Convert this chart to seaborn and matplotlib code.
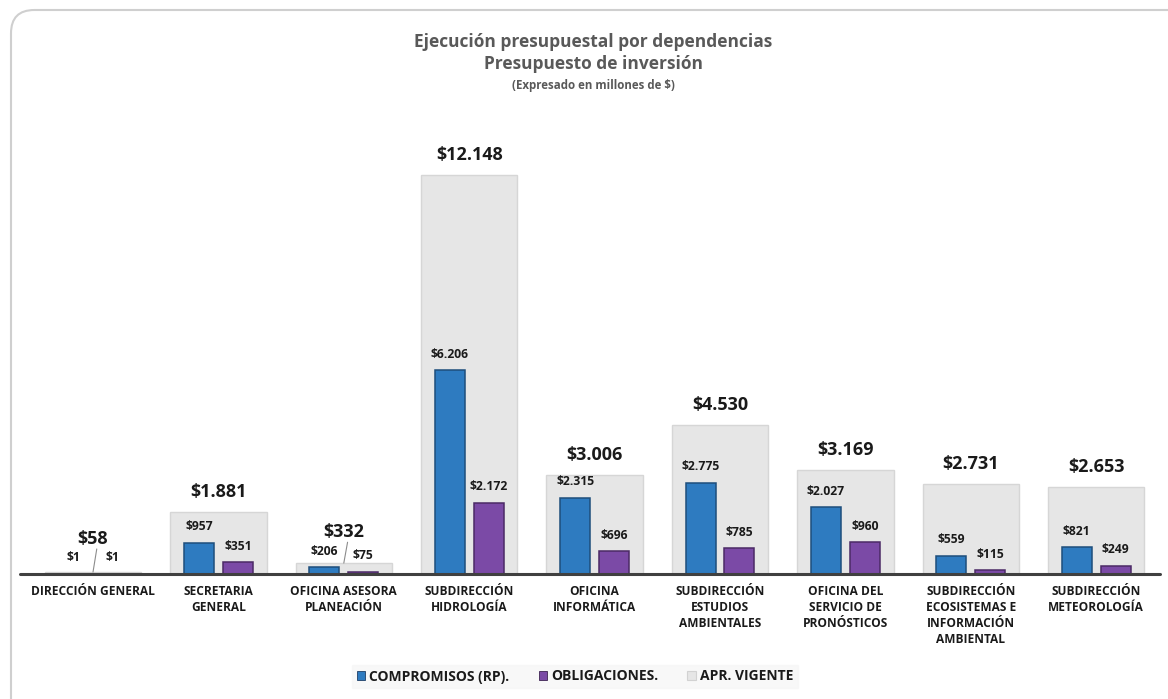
import matplotlib
matplotlib.use("Agg")
import matplotlib.pyplot as plt
from matplotlib.patches import FancyBboxPatch, Patch
import seaborn as sns
import pandas as pd

categorias = [
    "DIRECCIÓN GENERAL",
    "SECRETARIA\nGENERAL",
    "OFICINA ASESORA\nPLANEACIÓN",
    "SUBDIRECCIÓN\nHIDROLOGÍA",
    "OFICINA\nINFORMÁTICA",
    "SUBDIRECCIÓN\nESTUDIOS\nAMBIENTALES",
    "OFICINA DEL\nSERVICIO DE\nPRONÓSTICOS",
    "SUBDIRECCIÓN\nECOSISTEMAS E\nINFORMACIÓN\nAMBIENTAL",
    "SUBDIRECCIÓN\nMETEOROLOGÍA",
]
apr_vigente = [58, 1881, 332, 12148, 3006, 4530, 3169, 2731, 2653]
compromisos = [1, 957, 206, 6206, 2315, 2775, 2027, 559, 821]
obligaciones = [1, 351, 75, 2172, 696, 785, 960, 115, 249]
series = ["COMPROMISOS (RP).", "OBLIGACIONES.", "APR. VIGENTE"]

sns.set_style("white")
plt.rcParams["font.family"] = ["Open Sans", "DejaVu Sans"]
plt.rcParams["font.weight"] = "bold"

W, H = 1168, 699
fig = plt.figure(figsize=(W / 100, H / 100), dpi=100)
fig.patch.set_facecolor("white")

# outer rounded border
fig.patches.append(FancyBboxPatch((11 / W, 0.0 - 0.05), (W + 20) / W, (H - 10) / H + 0.05,
                                  boxstyle="round,pad=0,rounding_size=0.02",
                                  transform=fig.transFigure, facecolor="none",
                                  edgecolor="#CFCFCF", linewidth=1.5, zorder=0,
                                  mutation_aspect=W / H))

ax_left, ax_right = 20, 1160
base_y, top_y = 574, 140
ax = fig.add_axes([ax_left / W, (H - base_y) / H, (ax_right - ax_left) / W, (base_y - top_y) / H])
ax.set_facecolor("none")

ymax = 13212
c0, step = 93, 125.4

df_v = pd.DataFrame({"cat": categorias, "valor": apr_vigente})
sns.barplot(data=df_v, x="cat", y="valor", order=categorias, color="#E6E6E6",
            saturation=1, width=0.77, edgecolor="#D6D6D6", linewidth=1.0,
            errorbar=None, ax=ax, zorder=1)

df_l = pd.DataFrame({
    "cat": categorias * 2,
    "serie": [series[0]] * len(categorias) + [series[1]] * len(categorias),
    "valor": compromisos + obligaciones,
})
sns.barplot(data=df_l, x="cat", y="valor", hue="serie", order=categorias,
            hue_order=series[:2], palette=["#2E7BC0", "#7B4AA6"], saturation=1,
            width=0.62, gap=0.23, edgecolor="#1F3F66", linewidth=0.6,
            errorbar=None, ax=ax, legend=False, zorder=2)
ax.set_xlim((ax_left - c0) / step, (ax_right - c0) / step)
ax.set_ylim(0, ymax)

# darker bevel-like edges for the coloured bars
n = len(categorias)
for k, p in enumerate(ax.patches[n:3 * n]):
    p.set_edgecolor("#1E4E7C" if k < n else "#4B2A66")
    p.set_linewidth(1.1)

# baseline
ax.axhline(0, color="#404040", linewidth=2.2, zorder=5, clip_on=False)

units_per_px = ymax / (base_y - top_y)


def fmt(v):
    return "$" + f"{v:,}".replace(",", ".")


for i, (v, c, o) in enumerate(zip(apr_vigente, compromisos, obligaciones)):
    dx = 0.155
    yc = c + 16 * units_per_px
    yo = o + 16 * units_per_px
    ax.text(i - dx, yc, fmt(c), ha="center", va="center", fontsize=8.7,
            fontweight="bold", color="#1A1A1A", zorder=6)
    ax.text(i + dx, yo, fmt(o), ha="center", va="center", fontsize=8.7,
            fontweight="bold", color="#1A1A1A", zorder=6)
    yt_default = v + 20 * units_per_px
    yt = max(yt_default, max(yc, yo) + 19 * units_per_px)
    ax.text(i, yt, fmt(v), ha="center", va="center", fontsize=13,
            fontweight="bold", color="#1A1A1A", zorder=6)
    if yt > yt_default + 2 * units_per_px:
        ax.plot([i + 0.03, i], [yt - 10 * units_per_px, v], color="#8C8C8C",
                linewidth=0.8, zorder=6)

ax.set_xticks(range(len(categorias)))
ax.set_xticklabels(categorias, fontsize=8.6, fontweight="bold", color="#1A1A1A",
                   linespacing=1.3, va="top")
ax.tick_params(axis="x", length=0, pad=8)
ax.set_yticks([])
ax.set_xlabel("")
ax.set_ylabel("")
sns.despine(ax=ax, left=True, bottom=True)

# titles
fig.text(593 / W, 1 - 42 / H, "Ejecución presupuestal por dependencias", ha="center",
         va="center", fontsize=12.5, fontweight="bold", color="#595959")
fig.text(593 / W, 1 - 64 / H, "Presupuesto de inversión", ha="center", va="center",
         fontsize=12.5, fontweight="bold", color="#595959")
fig.text(593 / W, 1 - 85 / H, "(Expresado en millones de $)", ha="center", va="center",
         fontsize=8.3, fontweight="bold", color="#595959")

# legend
handles = [Patch(facecolor="#2E7BC0", edgecolor="#1F3F66", linewidth=0.6),
           Patch(facecolor="#7B4AA6", edgecolor="#3D2352", linewidth=0.6),
           Patch(facecolor="#E6E6E6", edgecolor="#D2D2D2", linewidth=0.8)]
leg = fig.legend(handles, series, loc="center", bbox_to_anchor=(575 / W, 1 - 676.5 / H),
                 ncol=3, frameon=True, fontsize=10, handlelength=0.6, handleheight=0.6,
                 handletextpad=0.3, columnspacing=2.1, borderpad=0.35)
leg.get_frame().set_facecolor("#F7F7F7")
leg.get_frame().set_edgecolor("#F7F7F7")
leg.get_frame().set_boxstyle("square", pad=0)
for t in leg.get_texts():
    t.set_fontweight("bold")
    t.set_color("#1A1A1A")

fig.savefig("out.png", dpi=100)
